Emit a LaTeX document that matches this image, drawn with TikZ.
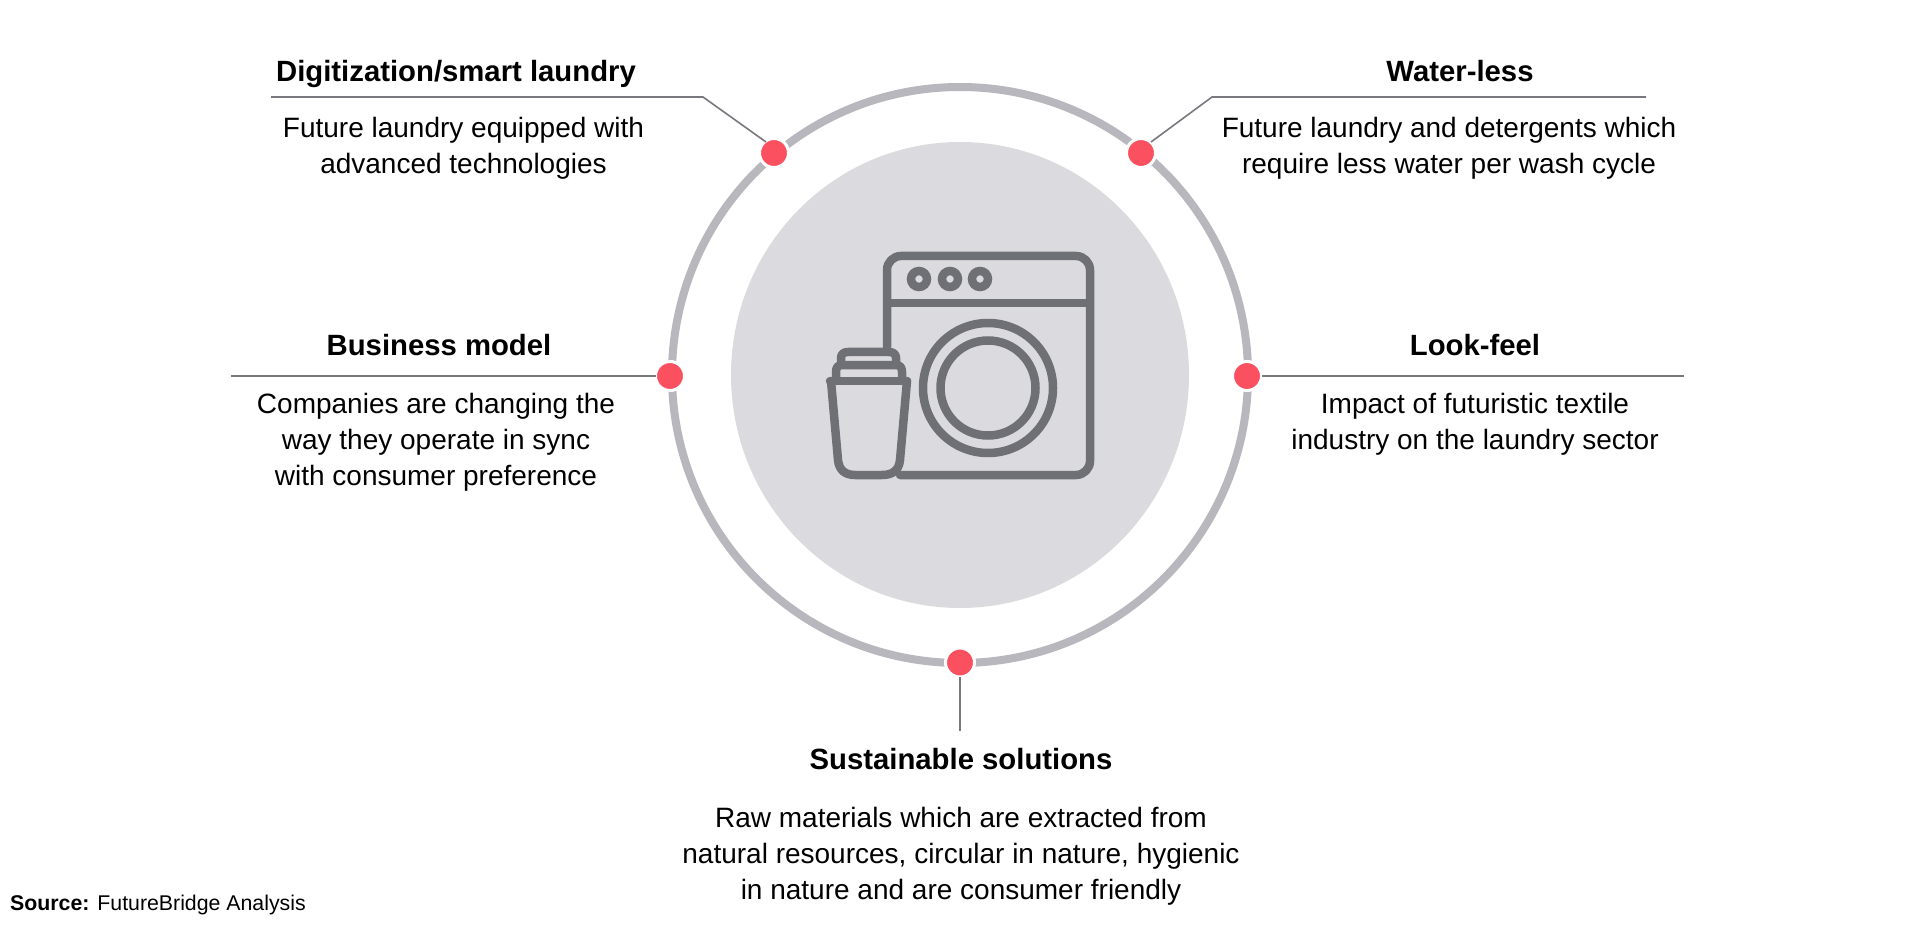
\documentclass[tikz,border=0pt]{standalone}
\usepackage{fontspec}
\setmainfont{Liberation Sans}
\usetikzlibrary{calc}
\definecolor{ringc}{HTML}{B7B7BD}
\definecolor{discc}{HTML}{DBDBDF}
\definecolor{iconc}{HTML}{6F6F76}
\definecolor{dotc}{HTML}{FB5060}
\definecolor{linec}{HTML}{78787E}
\tikzset{
  px/.style={x=1pt,y=-1pt},
  dotnode/.style={circle,fill=dotc,draw=white,line width=3pt,minimum size=29pt,inner sep=0pt,outer sep=0pt},
  leader/.style={draw=linec,line width=1.6pt},
  titletext/.style={font=\fontsize{29.3}{34}\selectfont\bfseries,inner sep=0pt,align=center,anchor=base},
  bodytext/.style={font=\fontsize{28}{36}\selectfont,inner sep=0pt,align=center},
  iconline/.style={draw=iconc,line width=8.5pt,line join=round,line cap=round}
}
\begin{document}
\begin{tikzpicture}[px]
\useasboundingbox (0,0) rectangle (1920,933);
\fill[white] (0,0) rectangle (1920,933);
% disc and ring
\fill[discc] (960,375) ellipse [x radius=229,y radius=233];
\draw[ringc,line width=8pt] (960,375) circle [radius=288];
% washer
\draw[iconline,rounded corners=14pt] (887,347) -- (887,256) -- (1090,256) -- (1090,475) -- (900,475);
\draw[iconline,line cap=butt] (887,303) -- (1090,303);
\foreach \bx in {919,950,980}{\draw[iconc,line width=8.5pt] (\bx,279) circle [radius=8];}
\draw[iconc,line width=8.5pt] (988,388) circle [radius=65];
\draw[iconc,line width=8.5pt] (988,388) circle [radius=47.5];
% cup
\draw[iconline] (830,381) -- (907,381);
\draw[iconline] (831,381) -- (838,460) .. controls (839,470) and (845,475) .. (855,475) -- (882,475) .. controls (893,475) and (899,470) .. (900,460) -- (907,381);
\draw[iconline] (836,381) -- (836,372) .. controls (836,367) and (838,365) .. (843,365) -- (895,365) .. controls (900,365) and (902,367) .. (902,372) -- (902,381);
\draw[iconline] (841,365) -- (841,358) .. controls (841,354) and (844,352) .. (848,352) -- (889,352) .. controls (893,352) and (896,354) .. (896,358) -- (896,365);
% leader ends
\coordinate (tlA) at (271,97);
\coordinate (tlB) at (703,97);
\coordinate (tlC) at (766,142);
\coordinate (trA) at (1646,97);
\coordinate (trB) at (1212,97);
\coordinate (trC) at (1151,142);
\coordinate (lA) at (231,376);
\coordinate (rA) at (1684,376);
\coordinate (bA) at (960,731);
% dots
\node[dotnode] (d1) at (774,153) {};
\node[dotnode] (d2) at (1141,153) {};
\node[dotnode] (d3) at (670,376) {};
\node[dotnode] (d4) at (1247,376) {};
\node[dotnode] (d5) at (960,662.5) {};
% leaders
\draw[leader] (tlA) -- (tlB) -- (tlC);
\draw[leader] (trA) -- (trB) -- (trC);
\draw[leader] (lA) -- (d3);
\draw[leader] (rA) -- (d4);
\draw[leader] (bA) -- (d5);
% texts
\node[titletext] (t1) at (456,81.5) {Digitization/smart laundry};
\node[bodytext] (b1) at (463.5,148.5) {Future laundry equipped with\\advanced technologies};
\node[titletext] (t2) at (1460,81.5) {Water-less};
\node[bodytext] (b2) at (1449,148.5) {Future laundry and detergents which\\require less water per wash cycle};
\node[titletext] (t3) at (439,355.5) {Business model};
\node[bodytext] (b3) at (436,442.5) {Companies are changing the\\way they operate in sync\\with consumer preference};
\node[titletext] (t4) at (1475,355.5) {Look-feel};
\node[bodytext] (b4) at (1475,424.5) {Impact of futuristic textile\\industry on the laundry sector};
\node[titletext] (t5) at (961,769.5) {Sustainable solutions};
\node[bodytext] (b5) at (961,856.5) {Raw materials which are extracted from\\natural resources, circular in nature, hygienic\\in nature and are consumer friendly};
\node[inner sep=0pt,anchor=west,font=\fontsize{21.3}{25}\selectfont] (src) at (10,904.5) {\textbf{Source:} FutureBridge Analysis};
\end{tikzpicture}
\end{document}
